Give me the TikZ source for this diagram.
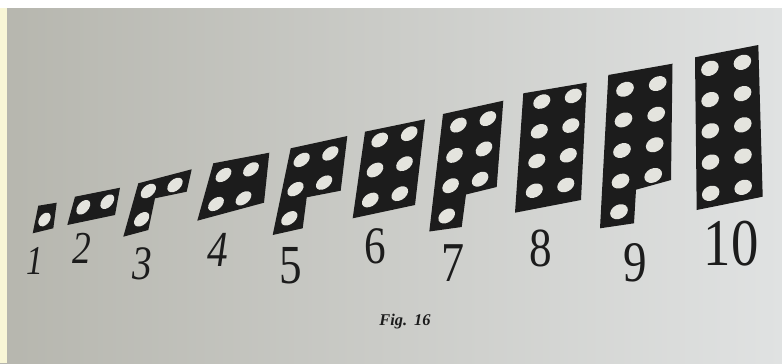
\documentclass[tikz,border=0pt]{standalone}
\usepackage{graphicx}
\usepackage{fontspec}
\newfontfamily\numfont{Liberation Serif}
\usetikzlibrary{calc}
\definecolor{pageL}{RGB}{182,182,174}
\definecolor{pageM}{RGB}{198,199,194}
\definecolor{pageR}{RGB}{224,226,226}
\definecolor{ink}{RGB}{28,28,28}
\definecolor{holecol}{RGB}{228,228,222}
\definecolor{edgeyellow}{RGB}{248,246,214}
\newcommand\digitsz[1]{\fontsize{#1}{#1}\selectfont}
\newcommand\narrow[1]{\scalebox{.82}[1]{#1}}
\tikzset{
 plate/.style={fill=ink},
 hole/.style={fill=holecol},
 cells/.style n args={4}{x={(#1*0.03cm,#2*0.03cm)},y={(#3*0.03cm,#4*0.03cm)}},
 num/.style={inner sep=0pt,text=ink}
}

\begin{document}
\begin{tikzpicture}[x=0.03cm,y=-0.03cm]
 \useasboundingbox (0,0) rectangle (782,363);
 % page
 \shade[left color=pageL,middle color=pageM,right color=pageR] (0,0) rectangle (782,363);
 \fill[white] (0,0) rectangle (782,8);
 \fill[edgeyellow] (0,8) rectangle (7,363);
 % 1
 \fill[plate] (32.7,233.3)--(53.3,228.3)--(56.7,202.7)--(38.3,205.7)--cycle;
 \begin{scope}[shift={(44.5,219.5)},cells={20}{4.5}{5}{27}]
  \fill[hole] (0,0) ellipse [x radius=.3,y radius=.25];
 \end{scope}
 % 2
 \fill[plate] (67.3,225)--(115,215)--(120,187.7)--(75,196.7)--cycle;
 \begin{scope}[shift={(83.3,207.3)},cells={24}{5.6}{6.5}{27.5}]
  \foreach \c/\r in {0/0,1/0}
   \fill[hole] (\c,\r) ellipse [x radius=.28,y radius=.26];
 \end{scope}
 % 3
 \fill[plate] (123.3,236.7)--(148.3,230)--(155,198.3)--(186.7,191.7)--(191.7,169.3)--(138.3,183.3)--cycle;
 \begin{scope}[shift={(141.7,219.3)},cells={26.7}{6}{6.6}{28.3}]
  \foreach \c/\r in {0/0,0/1,1/1}
   \fill[hole] (\c,\r) ellipse [x radius=.28,y radius=.25];
 \end{scope}
 % 4
 \fill[plate] (197.3,220.7)--(264,202.7)--(269.3,152.7)--(213.3,163.3)--cycle;
 \begin{scope}[shift={(216,204)},cells={27.5}{5.7}{7.5}{29}]
  \foreach \c/\r in {0/0,1/0,0/1,1/1}
   \fill[hole] (\c,\r) ellipse [x radius=.28,y radius=.24];
 \end{scope}
 % 5
 \fill[plate] (272.7,235)--(302.7,228.3)--(306.7,197.3)--(340.7,190.7)--(347.3,136)--(290.7,148.3)--cycle;
 \begin{scope}[shift={(289.3,218.3)},cells={28.6}{6.5}{6.2}{29.2}]
  \foreach \c/\r in {0/0,0/1,1/1,0/2,1/2}
   \fill[hole] (\c,\r) ellipse [x radius=.28,y radius=.24];
 \end{scope}
 % 6
 \fill[plate] (352.7,218.3)--(415,205)--(425,119.3)--(365,131.7)--cycle;
 \begin{scope}[shift={(370.3,200)},cells={29.5}{6.3}{4.7}{30}]
  \foreach \c in {0,1} \foreach \r in {0,1,2}
   \fill[hole] (\c,\r) ellipse [x radius=.28,y radius=.24];
 \end{scope}
 % 7
 \fill[plate] (429.3,231.5)--(461.7,227)--(466,194.5)--(496.7,187)--(503.3,100.7)--(443,114)--cycle;
 \begin{scope}[shift={(446.7,216)},cells={29.5}{6.5}{3.9}{30.3}]
  \fill[hole] (0,0) ellipse [x radius=.28,y radius=.24];
  \foreach \c in {0,1} \foreach \r in {1,2,3}
   \fill[hole] (\c,\r) ellipse [x radius=.28,y radius=.24];
 \end{scope}
 % 8
 \fill[plate] (515,212.7)--(581,200)--(586.7,82.7)--(523.3,93.3)--cycle;
 \begin{scope}[shift={(534.3,190.7)},cells={31.5}{5.7}{2.5}{29.7}]
  \foreach \c in {0,1} \foreach \r in {0,...,3}
   \fill[hole] (\c,\r) ellipse [x radius=.27,y radius=.24];
 \end{scope}
 % 9
 \fill[plate] (600,228.3)--(634,223.3)--(636,189.7)--(671,180)--(672.5,63.7)--(608.3,75)--cycle;
 \begin{scope}[shift={(619,211.7)},cells={32.7}{5.7}{1.5}{30.6}]
  \fill[hole] (0,0) ellipse [x radius=.27,y radius=.24];
  \foreach \c in {0,1} \foreach \r in {1,...,4}
   \fill[hole] (\c,\r) ellipse [x radius=.27,y radius=.24];
 \end{scope}
 % 10
 \fill[plate] (696.7,210)--(762.7,196.7)--(758.3,45)--(695,57.3)--cycle;
 \begin{scope}[shift={(710.7,193.3)},cells={32.5}{6}{-0.2}{31.25}]
  \foreach \c in {0,1} \foreach \r in {0,...,4}
   \fill[hole] (\c,\r) ellipse [x radius=.27,y radius=.24];
 \end{scope}
 % numbers
 \node[num,font=\numfont\itshape\digitsz{35}] (n1) at (35,261) {\narrow{1}};
 \node[num,font=\numfont\itshape\digitsz{39}] (n2) at (82,248) {\narrow{2}};
 \node[num,font=\numfont\itshape\digitsz{41}] (n3) at (142,264) {\narrow{3}};
 \node[num,font=\numfont\itshape\digitsz{43}] (n4) at (218,250) {\narrow{4}};
 \node[num,font=\numfont\digitsz{47}] (n5) at (291,266) {\narrow{5}};
 \node[num,font=\numfont\digitsz{45}] (n6) at (375,246) {\narrow{6}};
 \node[num,font=\numfont\digitsz{48}] (n7) at (453,263) {\narrow{7}};
 \node[num,font=\numfont\digitsz{47}] (n8) at (541,248) {\narrow{8}};
 \node[num,font=\numfont\digitsz{49}] (n9) at (635,263) {\narrow{9}};
 \node[num,font=\numfont\digitsz{57}] (n10) at (731,244) {\narrow{10}};
 \node[num,font=\numfont\bfseries\itshape\digitsz{14}] (cap) at (405,322) {Fig.\,\ 16};
\end{tikzpicture}
\end{document}
